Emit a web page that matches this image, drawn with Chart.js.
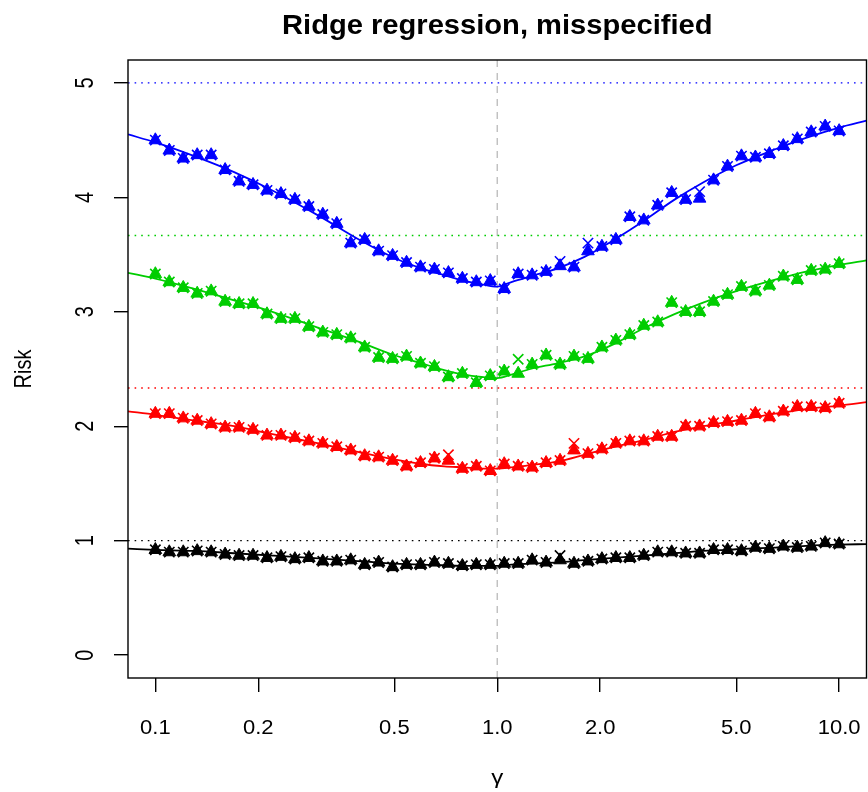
<!doctype html>
<html lang="en">
<head>
<meta charset="utf-8">
<title>Ridge regression, misspecified</title>
<style>
  body { margin: 0; background: #fff; }
  canvas { display: block; }
</style>
</head>
<body>
<canvas id="riskChart" width="868" height="792"></canvas>
<script src="https://cdn.jsdelivr.net/npm/chart.js@4.4.1/dist/chart.umd.min.js"></script>
<script>
// gamma grid of the simulated points (log spaced, 0.1 .. 10)
const gammas = [0.1, 0.10985, 0.12068, 0.13257, 0.14563, 0.15999, 0.17575, 0.19307, 0.2121, 0.2330,
  0.25595, 0.28118, 0.30888, 0.33932, 0.37276, 0.40949, 0.44984, 0.49417, 0.54287, 0.59636,
  0.65513, 0.71969, 0.7906, 0.86851, 0.95409, 1.04811, 1.1514, 1.26486, 1.3895, 1.52642,
  1.67683, 1.84207, 2.02359, 2.223, 2.44205, 2.6827, 2.94705, 3.23746, 3.55648, 3.90694,
  4.29193, 4.71487, 5.17947, 5.68987, 6.25055, 6.86649, 7.54312, 8.28643, 9.10298, 10];

// triangles
const blueTri = [4.50, 4.41, 4.34, 4.37, 4.37, 4.24, 4.14, 4.11, 4.06, 4.03, 3.98, 3.92, 3.85, 3.77, 3.60, 3.63,
  3.53, 3.49, 3.43, 3.39, 3.37, 3.34, 3.29, 3.26, 3.27, 3.20, 3.33, 3.32, 3.35, 3.40, 3.39, 3.53, 3.57, 3.63,
  3.83, 3.80, 3.93, 4.04, 3.98, 3.99, 4.15, 4.27, 4.36, 4.35, 4.38, 4.45, 4.51, 4.57, 4.62, 4.58];
const greenTri = [3.33, 3.26, 3.21, 3.16, 3.18, 3.09, 3.07, 3.07, 2.98, 2.94, 2.94, 2.87, 2.82, 2.80, 2.77, 2.69,
  2.60, 2.59, 2.61, 2.55, 2.52, 2.43, 2.46, 2.38, 2.44, 2.48, 2.46, 2.54, 2.62, 2.54, 2.61, 2.59, 2.69, 2.75,
  2.80, 2.88, 2.91, 3.08, 3.00, 3.00, 3.09, 3.15, 3.22, 3.18, 3.23, 3.31, 3.28, 3.36, 3.37, 3.42];
const redTri = [2.11, 2.11, 2.07, 2.05, 2.02, 1.99, 1.99, 1.97, 1.92, 1.92, 1.90, 1.87, 1.85, 1.82, 1.79, 1.74,
  1.73, 1.70, 1.65, 1.68, 1.72, 1.70, 1.63, 1.65, 1.61, 1.67, 1.65, 1.64, 1.68, 1.70, 1.79, 1.76, 1.80, 1.85,
  1.87, 1.87, 1.91, 1.91, 2.00, 2.00, 2.03, 2.04, 2.05, 2.11, 2.08, 2.13, 2.17, 2.17, 2.16, 2.20];
const blackTri = [0.92, 0.90, 0.90, 0.91, 0.90, 0.88, 0.87, 0.87, 0.85, 0.86, 0.84, 0.85, 0.82, 0.82, 0.83, 0.79,
  0.81, 0.77, 0.79, 0.79, 0.81, 0.80, 0.78, 0.79, 0.79, 0.80, 0.80, 0.83, 0.81, 0.83, 0.80, 0.82, 0.84, 0.85,
  0.85, 0.87, 0.90, 0.90, 0.89, 0.89, 0.92, 0.92, 0.91, 0.94, 0.93, 0.95, 0.94, 0.95, 0.98, 0.97];

// crosses
const blueCross = [4.50, 4.41, 4.34, 4.37, 4.37, 4.24, 4.14, 4.11, 4.06, 4.03, 3.98, 3.92, 3.85, 3.77, 3.60, 3.63,
  3.53, 3.49, 3.43, 3.39, 3.37, 3.34, 3.29, 3.26, 3.27, 3.20, 3.33, 3.32, 3.35, 3.44, 3.39, 3.60, 3.57, 3.63,
  3.83, 3.80, 3.93, 4.04, 3.98, 4.05, 4.15, 4.27, 4.36, 4.35, 4.38, 4.45, 4.51, 4.57, 4.62, 4.58];
const greenCross = [3.33, 3.26, 3.21, 3.16, 3.18, 3.09, 3.07, 3.07, 2.98, 2.94, 2.94, 2.87, 2.82, 2.80, 2.77, 2.69,
  2.60, 2.59, 2.61, 2.55, 2.52, 2.43, 2.46, 2.38, 2.44, 2.48, 2.585, 2.54, 2.62, 2.54, 2.61, 2.59, 2.69, 2.75,
  2.80, 2.88, 2.91, 3.08, 3.00, 3.00, 3.09, 3.15, 3.22, 3.18, 3.23, 3.31, 3.28, 3.36, 3.37, 3.42];
const redCross = [2.11, 2.11, 2.07, 2.05, 2.02, 1.99, 1.99, 1.97, 1.92, 1.92, 1.90, 1.87, 1.85, 1.82, 1.79, 1.74,
  1.73, 1.70, 1.65, 1.68, 1.72, 1.75, 1.63, 1.65, 1.61, 1.67, 1.65, 1.64, 1.68, 1.70, 1.85, 1.76, 1.80, 1.85,
  1.87, 1.87, 1.91, 1.91, 2.00, 2.00, 2.03, 2.04, 2.05, 2.11, 2.08, 2.13, 2.17, 2.17, 2.16, 2.20];
const blackCross = [0.92, 0.90, 0.90, 0.91, 0.90, 0.88, 0.87, 0.87, 0.85, 0.86, 0.84, 0.85, 0.82, 0.82, 0.83, 0.79,
  0.81, 0.77, 0.79, 0.79, 0.81, 0.80, 0.78, 0.79, 0.79, 0.80, 0.80, 0.83, 0.81, 0.87, 0.80, 0.82, 0.84, 0.85,
  0.85, 0.87, 0.90, 0.90, 0.89, 0.89, 0.92, 0.92, 0.91, 0.94, 0.93, 0.95, 0.94, 0.95, 0.98, 0.97];

// theory curves
const curveX = [0.0832, 0.1, 0.13, 0.17, 0.22, 0.3, 0.4, 0.5, 0.6, 0.7, 0.8, 0.9, 1.0,
  1.1, 1.25, 1.5, 1.8, 2.2, 2.7, 3.3, 4, 5, 6.5, 8, 10, 12.02];
const blueCurve = [4.55, 4.48, 4.36, 4.22, 4.06, 3.84, 3.62, 3.47, 3.38, 3.32, 3.27, 3.24, 3.22,
  3.26, 3.31, 3.38, 3.48, 3.63, 3.80, 3.98, 4.13, 4.28, 4.42, 4.52, 4.61, 4.67];
const greenCurve = [3.34, 3.29, 3.20, 3.10, 3.00, 2.86, 2.73, 2.62, 2.55, 2.49, 2.45, 2.43, 2.42,
  2.45, 2.50, 2.55, 2.61, 2.72, 2.86, 2.98, 3.08, 3.18, 3.28, 3.35, 3.41, 3.45];
const redCurve = [2.13, 2.10, 2.05, 2.00, 1.93, 1.85, 1.77, 1.71, 1.67, 1.65, 1.64, 1.63, 1.63,
  1.64, 1.66, 1.69, 1.75, 1.82, 1.88, 1.95, 2.00, 2.05, 2.11, 2.15, 2.18, 2.21];
const blackCurve = [0.93, 0.92, 0.91, 0.89, 0.87, 0.845, 0.82, 0.80, 0.79, 0.785, 0.78, 0.78, 0.78,
  0.79, 0.80, 0.81, 0.83, 0.85, 0.87, 0.89, 0.91, 0.925, 0.94, 0.955, 0.965, 0.97];

// null-risk levels (dotted lines)
const levels = [5, 11 / 3, 7 / 3, 1];

const colors = ['#0000FF', '#00CD00', '#FF0000', '#000000'];
const triSets = [blueTri, greenTri, redTri, blackTri];
const crossSets = [blueCross, greenCross, redCross, blackCross];
const curveSets = [blueCurve, greenCurve, redCurve, blackCurve];

const xTicks = [0.1, 0.2, 0.5, 1, 2, 5, 10];
const xTickLabels = ['0.1', '0.2', '0.5', '1.0', '2.0', '5.0', '10.0'];
const yTicks = [0, 1, 2, 3, 4, 5];
const xMin = 0.083176, xMax = 12.0226, yMin = -0.2, yMax = 5.2;

function pts(xs, ys) { return xs.map((x, i) => ({ x: x, y: ys[i] })); }

const datasets = [];
levels.forEach((lv, k) => {
  datasets.push({
    data: [{ x: xMin, y: lv }, { x: xMax, y: lv }],
    borderColor: colors[k], borderWidth: 1.4, borderDash: [1.6, 5],
    pointRadius: 0, order: 10
  });
});
datasets.push({
  data: [{ x: 1, y: yMin }, { x: 1, y: yMax }],
  borderColor: '#BEBEBE', borderWidth: 1.4, borderDash: [7, 6],
  pointRadius: 0, order: 10
});
for (let k = 3; k >= 0; k--) {
  datasets.push({
    data: pts(curveX, curveSets[k]),
    borderColor: colors[k], borderWidth: 1.8,
    cubicInterpolationMode: 'monotone', pointRadius: 0, order: 5
  });
  datasets.push({
    data: pts(gammas, triSets[k]), showLine: false,
    pointStyle: 'triangle', pointRadius: 7.3,
    backgroundColor: colors[k], borderColor: colors[k], borderWidth: 1, order: 2
  });
  datasets.push({
    data: pts(gammas, crossSets[k]), showLine: false,
    pointStyle: 'crossRot', pointRadius: 7.3,
    borderColor: colors[k], borderWidth: 1.6, order: 1
  });
}

const FONT = '"Liberation Sans", Arial, Helvetica, sans-serif';

function stretchedText(ctx, text, x, y, sx, rot) {
  ctx.save();
  ctx.translate(x, y);
  ctx.scale(sx, 1);
  if (rot) ctx.rotate(rot);
  ctx.fillText(text, 0, 0);
  ctx.restore();
}

const rPlot = {
  id: 'rPlot',
  afterDraw(chart) {
    const ctx = chart.ctx;
    const a = chart.chartArea;
    const xs = chart.scales.x, ys = chart.scales.y;
    ctx.save();
    // box
    ctx.strokeStyle = '#000';
    ctx.lineWidth = 1.4;
    ctx.strokeRect(a.left, a.top, a.right - a.left, a.bottom - a.top);

    ctx.fillStyle = '#000';
    ctx.textAlign = 'center';
    ctx.textBaseline = 'alphabetic';
    // title
    ctx.font = 'bold 28px ' + FONT;
    stretchedText(ctx, 'Ridge regression, misspecified', (a.left + a.right) / 2, 34, 1.04);
    // x tick labels
    ctx.font = '20px ' + FONT;
    xTicks.forEach((v, i) => {
      stretchedText(ctx, xTickLabels[i], xs.getPixelForValue(v), 734, 1.1);
    });
    // y tick labels (rotated)
    yTicks.forEach(v => {
      stretchedText(ctx, String(v), 92.5, ys.getPixelForValue(v), 1.25, -Math.PI / 2);
    });
    // axis titles
    stretchedText(ctx, 'Risk', 31, (a.top + a.bottom) / 2, 1.2, -Math.PI / 2);
    ctx.font = '21px ' + FONT;
    stretchedText(ctx, '\u03B3', (a.left + a.right) / 2, 784, 1.15);
    ctx.restore();
  }
};

new Chart(document.getElementById('riskChart'), {
  type: 'line',
  data: { datasets: datasets },
  plugins: [rPlot],
  options: {
    responsive: false,
    animation: false,
    layout: { autoPadding: false, padding: { top: 60, right: 1.5, left: 0, bottom: 0 } },
    plugins: { legend: { display: false }, tooltip: { enabled: false }, title: { display: false } },
    scales: {
      x: {
        type: 'logarithmic', min: xMin, max: xMax,
        afterBuildTicks: s => { s.ticks = xTicks.map(v => ({ value: v })); },
        afterFit: s => { s.height = 114; },
        ticks: { display: false },
        grid: { drawOnChartArea: false, drawTicks: true, tickLength: 14, color: '#000', lineWidth: 1.4 },
        border: { display: false }
      },
      y: {
        type: 'linear', min: yMin, max: yMax,
        afterBuildTicks: s => { s.ticks = yTicks.map(v => ({ value: v })); },
        afterFit: s => { s.width = 128; },
        ticks: { display: false },
        grid: { drawOnChartArea: false, drawTicks: true, tickLength: 14, color: '#000', lineWidth: 1.4 },
        border: { display: false }
      }
    }
  }
});
</script>
</body>
</html>
